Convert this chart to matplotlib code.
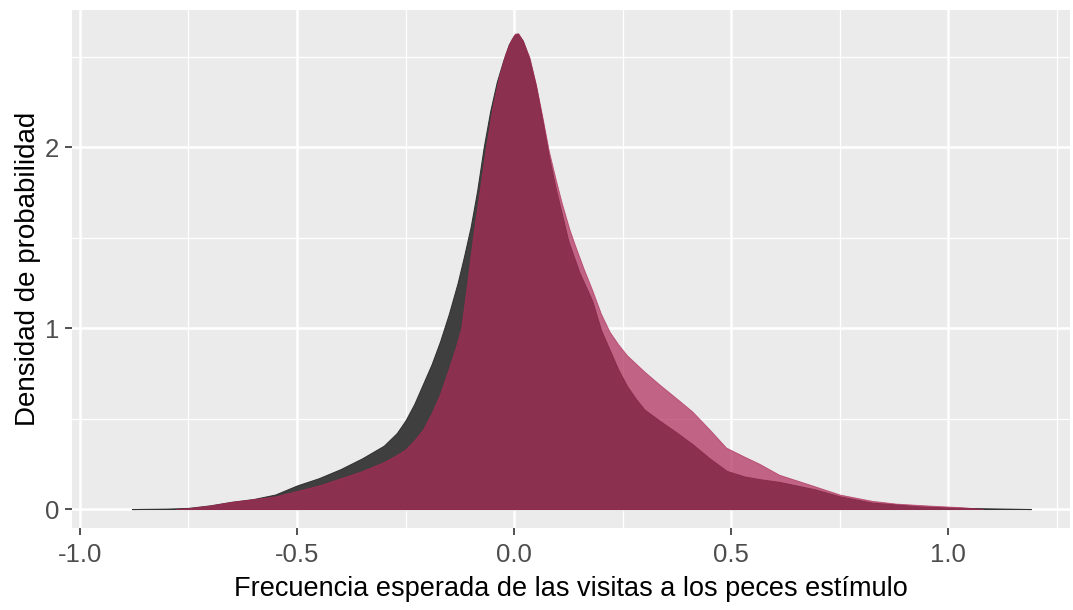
import matplotlib.pyplot as plt
from matplotlib.ticker import MultipleLocator

plt.rcParams['font.family'] = ['Liberation Sans', 'DejaVu Sans']

# densidad estimada, grupo 1 (gris)
x_gris = [-0.88, -0.80, -0.75, -0.70, -0.65, -0.60, -0.55, -0.50, -0.45, -0.40,
          -0.35, -0.30, -0.27, -0.25, -0.23, -0.21, -0.19, -0.17, -0.15, -0.13,
          -0.115, -0.10, -0.085, -0.07, -0.055, -0.04, -0.025, -0.012, 0.0, 0.008,
          0.02, 0.035, 0.05, 0.065, 0.08, 0.095, 0.11, 0.125, 0.15, 0.18,
          0.20, 0.22, 0.24, 0.26, 0.28, 0.30, 0.334, 0.37, 0.41, 0.45,
          0.49, 0.53, 0.565, 0.61, 0.65, 0.69, 0.75, 0.825, 0.88, 0.93,
          1.0, 1.08, 1.19]
y_gris = [0.0, 0.002, 0.006, 0.02, 0.04, 0.055, 0.08, 0.13, 0.17, 0.22,
          0.28, 0.35, 0.42, 0.49, 0.58, 0.69, 0.80, 0.93, 1.08, 1.25,
          1.40, 1.56, 1.76, 2.0, 2.2, 2.36, 2.48, 2.57, 2.62, 2.63,
          2.59, 2.49, 2.34, 2.15, 1.95, 1.78, 1.63, 1.48, 1.31, 1.15,
          0.99, 0.88, 0.77, 0.68, 0.61, 0.55, 0.49, 0.43, 0.36, 0.28,
          0.21, 0.18, 0.165, 0.15, 0.13, 0.11, 0.07, 0.035, 0.025, 0.015,
          0.008, 0.004, 0.0]

# densidad estimada, grupo 2 (rosa)
x_rosa = [-0.78, -0.75, -0.70, -0.65, -0.60, -0.55, -0.50, -0.45, -0.40, -0.35,
          -0.30, -0.27, -0.25, -0.23, -0.21, -0.19, -0.17, -0.15, -0.135, -0.122,
          -0.108, -0.095, -0.08, -0.065, -0.05, -0.035, -0.02, -0.008, 0.002, 0.01,
          0.02, 0.035, 0.05, 0.065, 0.08, 0.095, 0.11, 0.127, 0.14, 0.16,
          0.18, 0.20, 0.22, 0.24, 0.26, 0.30, 0.334, 0.38, 0.41, 0.45,
          0.488, 0.53, 0.565, 0.61, 0.687, 0.75, 0.825, 0.88, 0.95, 1.03,
          1.08]
y_rosa = [0.0, 0.005, 0.02, 0.04, 0.055, 0.07, 0.10, 0.13, 0.17, 0.21,
          0.26, 0.30, 0.33, 0.38, 0.44, 0.53, 0.64, 0.78, 0.89, 1.0,
          1.25, 1.5, 1.75, 2.0, 2.22, 2.39, 2.52, 2.59, 2.63, 2.63,
          2.59, 2.5, 2.35, 2.17, 1.98, 1.83, 1.69, 1.55, 1.46, 1.33,
          1.21, 1.08, 0.98, 0.91, 0.85, 0.76, 0.69, 0.60, 0.54, 0.44,
          0.34, 0.29, 0.25, 0.19, 0.13, 0.08, 0.045, 0.03, 0.02, 0.01,
          0.0]

fig = plt.figure(figsize=(10.73, 6.10), dpi=100)
ax = fig.add_axes([0.0671, 0.1344, 0.9301, 0.8492])
ax.set_facecolor('#EBEBEB')

ax.fill_between(x_gris, y_gris, color='#3F3F3F', edgecolor='#333333', linewidth=0.8, zorder=3)
ax.fill_between(x_rosa, y_rosa, color='#AE2A58', alpha=0.7, edgecolor='#AE2A58', linewidth=0.6, zorder=4)

ax.set_xlim(-1.018, 1.28)
ax.set_ylim(-0.105, 2.76)
ax.xaxis.set_major_locator(MultipleLocator(0.5))
ax.xaxis.set_minor_locator(MultipleLocator(0.25))
ax.yaxis.set_major_locator(MultipleLocator(1))
ax.yaxis.set_minor_locator(MultipleLocator(0.5))
ax.xaxis.set_major_formatter(plt.FuncFormatter(lambda v, p: f'{v:.1f}'))
ax.yaxis.set_major_formatter(plt.FuncFormatter(lambda v, p: f'{v:.0f}'))

ax.grid(which='major', color='white', linewidth=1.8, zorder=0)
ax.grid(which='minor', color='white', linewidth=0.9, zorder=0)
ax.set_axisbelow(True)
for s in ax.spines.values():
    s.set_visible(False)

ax.tick_params(which='major', length=5, width=1.2, color='#333333',
               labelsize=18.5, labelcolor='#4D4D4D', pad=4)
ax.tick_params(axis='x', which='major', pad=6)
ax.tick_params(which='minor', length=0)

ax.set_xlabel('Frecuencia esperada de las visitas a los peces estímulo', fontsize=19.5, labelpad=6)
ax.set_ylabel('Densidad de probabilidad', fontsize=20, labelpad=3)

fig.savefig('out.png', dpi=100)
